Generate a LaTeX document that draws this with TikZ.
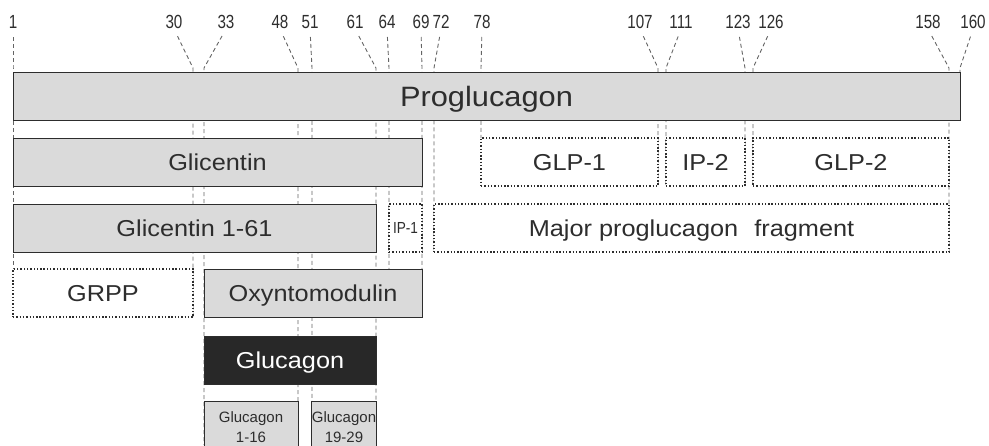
\documentclass[tikz,border=0pt]{standalone}
\usepackage{fontspec}
\setmainfont{Liberation Sans}
\newfontfamily\boxfont[FakeStretch=1.1]{Liberation Sans}
\newfontfamily\numfont[FakeStretch=0.8]{Liberation Sans}
\newfontfamily\slimfont[FakeStretch=0.85]{Liberation Sans}
\usepackage{tikz}
\definecolor{boxgrey}{RGB}{218,218,218}
\definecolor{inkgrey}{RGB}{45,45,45}
\definecolor{guidegrey}{RGB}{100,100,100}
\definecolor{glucdark}{RGB}{40,40,40}
\tikzset{
  segbox/.style={draw=inkgrey, line width=1pt, fill=boxgrey,
    minimum height=48pt, inner sep=0pt, text=inkgrey,
    font=\boxfont\fontsize{23pt}{26pt}\selectfont,
    text height=16.5pt, text depth=0pt},
  fragbox/.style={segbox, fill=white, line width=1.4pt,
    dash pattern=on 1.4pt off 1.9pt},
  darkbox/.style={segbox, fill=glucdark, text=white},
  smallbox/.style={segbox, minimum height=51pt, align=center,
    font=\fontsize{15pt}{20pt}\selectfont,
    text height=, text depth=},
  guide/.style={draw=guidegrey, line width=0.9pt,
    dash pattern=on 4pt off 3pt},
}

\begin{document}
\begin{tikzpicture}[x=1pt, y=-1pt,
  numlab/.style={inner sep=0pt, text=inkgrey,
    font=\numfont\fontsize{19pt}{22pt}\selectfont,
    text height=13.6pt, text depth=0pt}
]
  \useasboundingbox (0,0) rectangle (989,445);
  \clip (0,0) rectangle (989,445);

  % Residue numbers and their guide lines
  \foreach \num/\lx/\px/\yend in {1/13/13/317, 30/174/193/317,
      33/226/204/445, 48/280/298/445, 51/310/312/445, 61/355/376/445,
      64/387/389/269, 69/421/422/269, 72/441/434/252, 78/482/481/138,
      107/640/658/186, 111/681/666/186, 123/738/745/186, 126/771/753/186,
      158/928/949/252, 160/973/960/72} {
    \node[numlab] (n\num) at (\lx,22) {\num};
    \draw[guide, shorten <=8pt] (n\num.south) -- (\px,68) -- (\px,\yend);
  }

  % Row 1
  \node[segbox, minimum width=947pt,
        font=\boxfont\fontsize{28pt}{32pt}\selectfont, text height=20pt]
    (proglucagon) at (486.5,96) {Proglucagon};

  % Row 2
  \node[segbox, minimum width=409pt] (glicentin) at (217.5,162) {Glicentin};
  \node[fragbox, minimum width=177pt] (glp1) at (569.5,162) {GLP-1};
  \node[fragbox, minimum width=79pt] (ip2) at (705.5,162) {IP-2};
  \node[fragbox, minimum width=196pt] (glp2) at (851,162) {GLP-2};

  % Row 3
  \node[segbox, minimum width=363pt] (glic161) at (194.5,228) {Glicentin 1-61};
  \node[fragbox, minimum width=33pt,
        font=\slimfont\fontsize{16pt}{18pt}\selectfont, text height=11.5pt]
    (ip1) at (405.5,228) {IP-1};
  \node[fragbox, minimum width=515pt] (mpgf) at (691.5,228)
    {Major proglucagon\hspace{0.7em}fragment};

  % Row 4
  \node[fragbox, minimum width=180pt] (grpp) at (103,293) {GRPP};
  \node[segbox, minimum width=218pt] (oxm) at (313,293) {Oxyntomodulin};

  % Row 5
  \node[darkbox, minimum width=172pt] (glucagon) at (290,360) {Glucagon};

  % Row 6
  \node[smallbox, minimum width=94pt] (gluc116) at (251,427)
    {Glucagon\\1-16};
  \node[smallbox, minimum width=64pt] (gluc1929) at (344,427)
    {Glucagon\\19-29};
\end{tikzpicture}
\end{document}
